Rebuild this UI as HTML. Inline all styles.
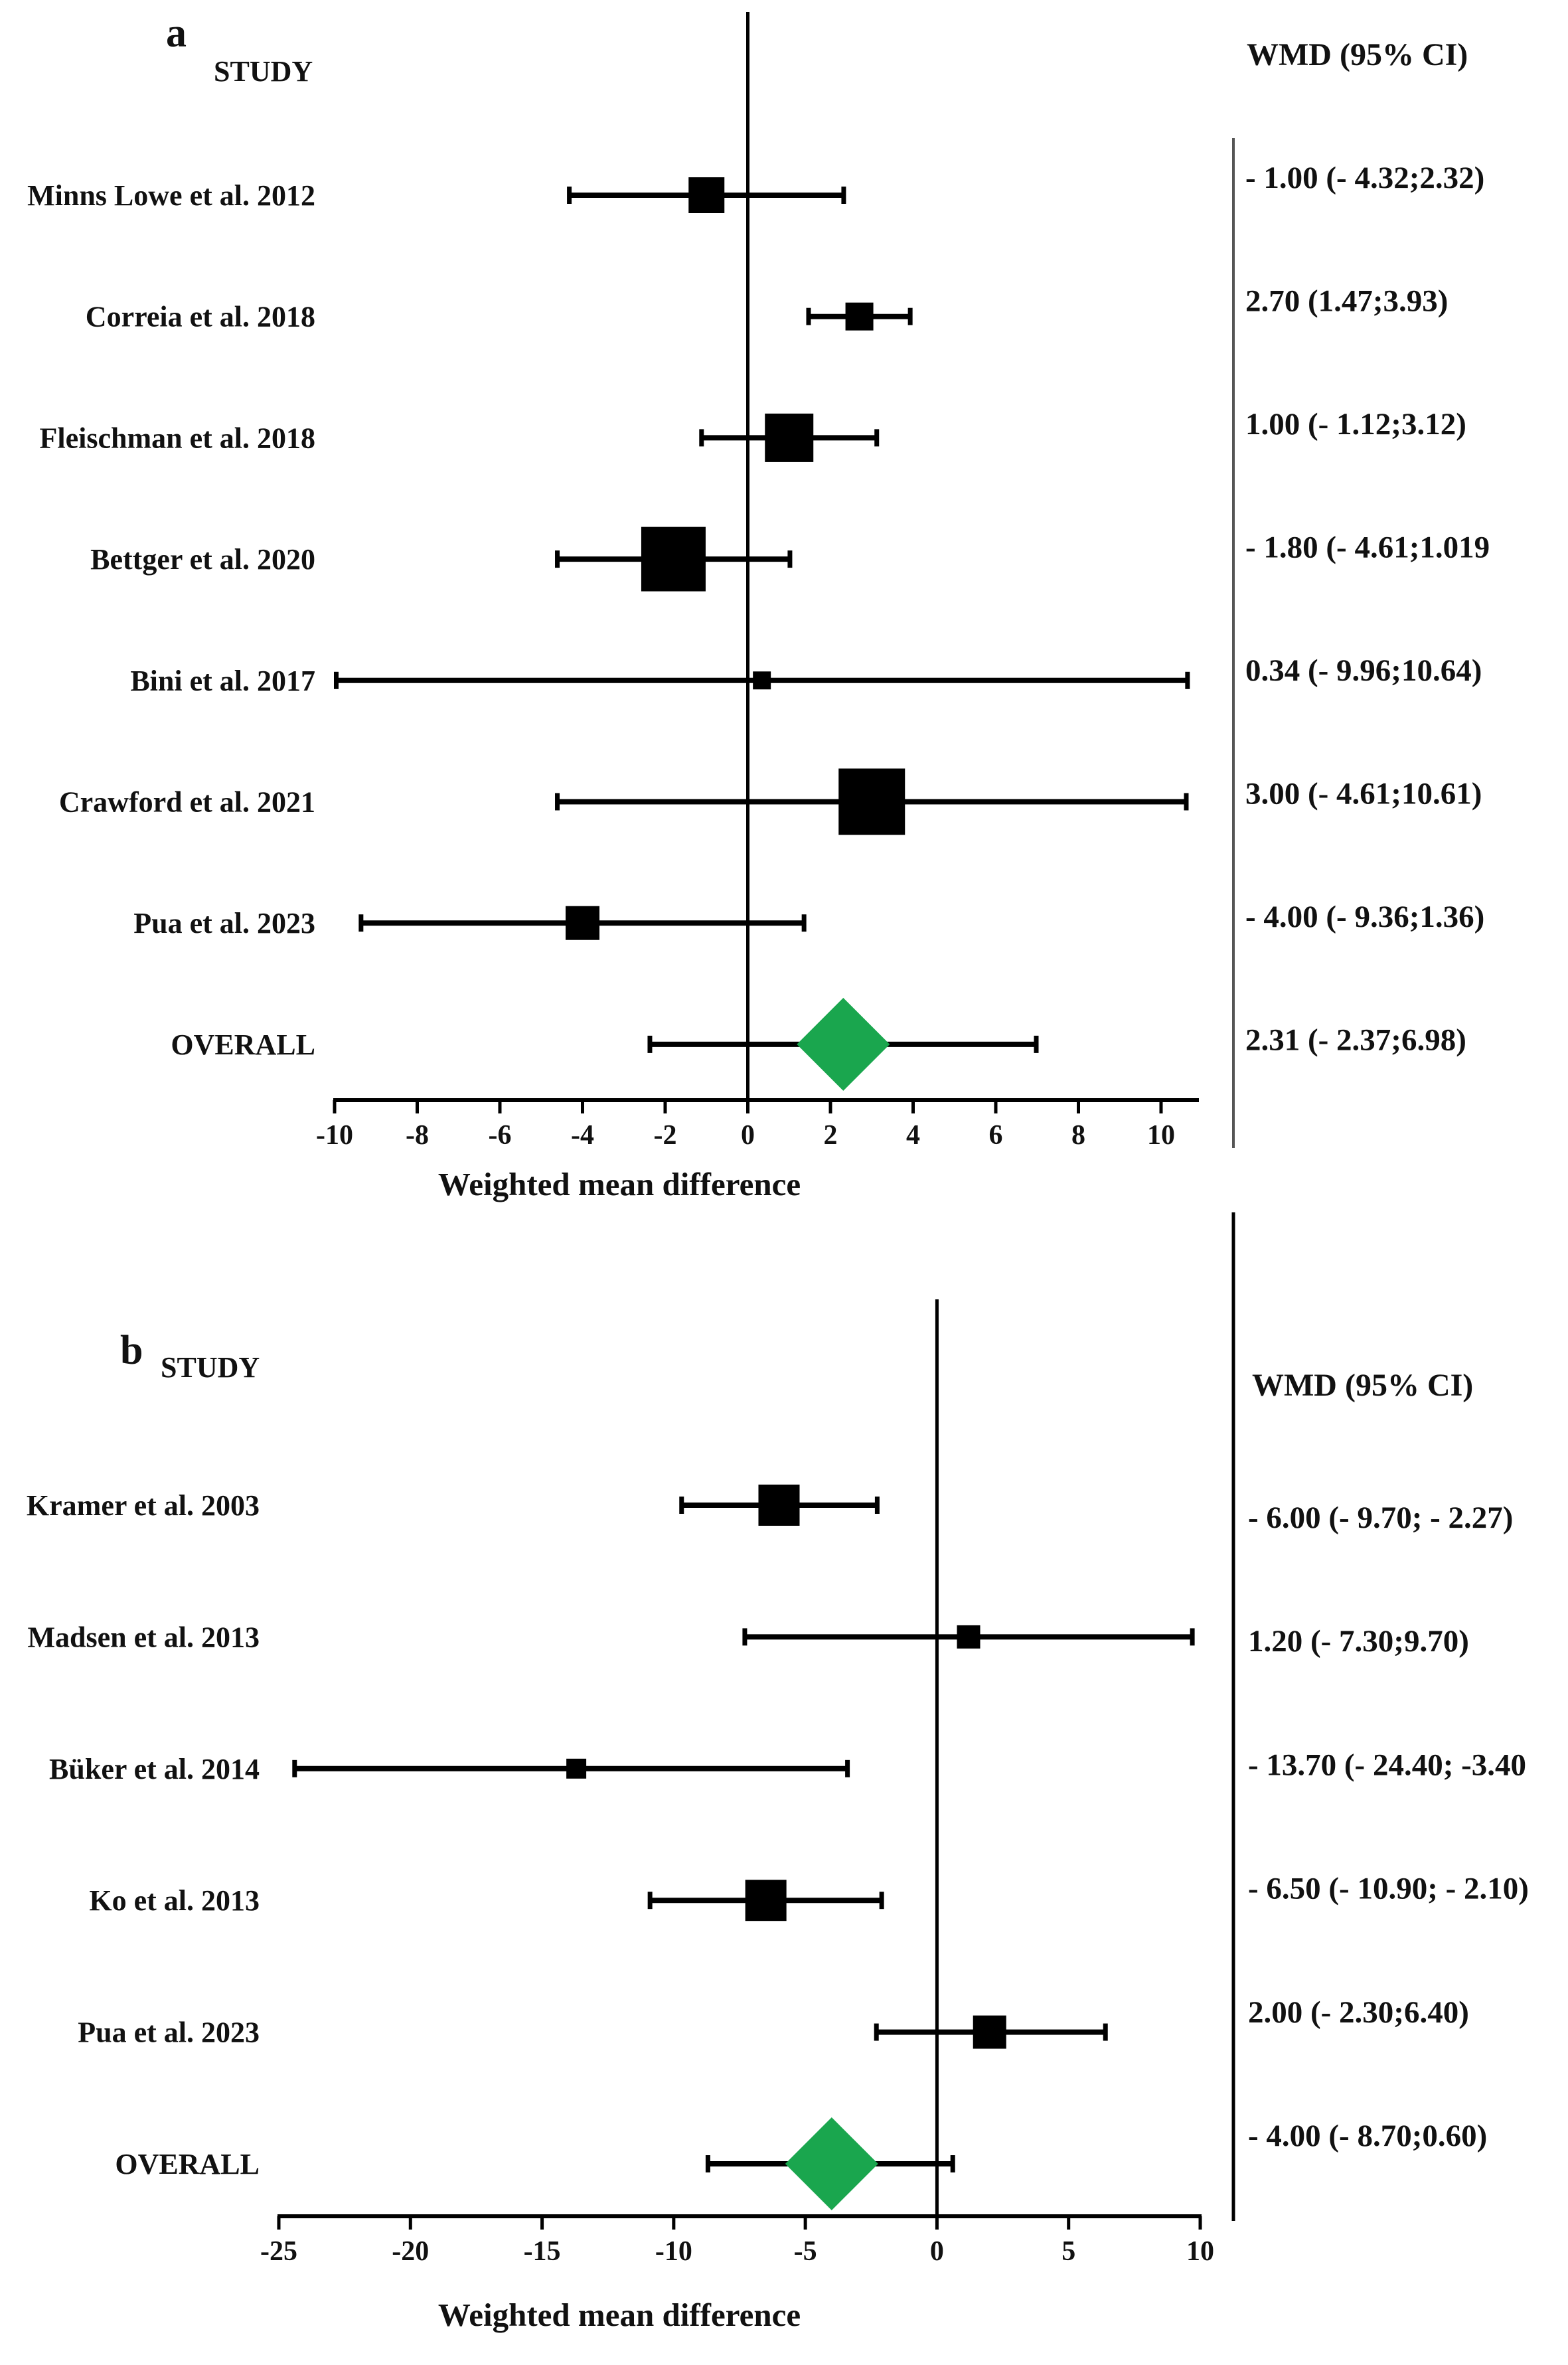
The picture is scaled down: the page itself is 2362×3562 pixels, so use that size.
<!DOCTYPE html>
<html><head><meta charset="utf-8"><style>
html,body{margin:0;padding:0;background:#fff;}
svg{display:block;}
text{font-family:"Liberation Serif",serif;font-weight:bold;fill:#111;}
</style></head><body>
<svg id="fig" width="2362" height="3562" viewBox="0 0 2362 3562">
<text x="250" y="70" font-size="62" font-family="Liberation Sans" font-weight="normal">a</text>
<text x="322" y="122" font-size="44">STUDY</text>
<text x="1878" y="98" font-size="48">WMD (95% CI)</text>
<text x="181" y="2054" font-size="62" font-family="Liberation Sans" font-weight="normal">b</text>
<text x="242" y="2074" font-size="44">STUDY</text>
<text x="1886" y="2102" font-size="48">WMD (95% CI)</text>
<g id="pa"></g>
<g id="pb"></g>
</svg>
<script>
const aStudies=["Minns Lowe et al. 2012","Correia et al. 2018","Fleischman et al. 2018","Bettger et al. 2020","Bini et al. 2017","Crawford et al. 2021","Pua et al. 2023","OVERALL"];
const aMean=[-1.00,2.70,1.00,-1.80,0.34,3.00,-4.00,2.31];
const aLow=[-4.32,1.47,-1.12,-4.61,-9.96,-4.61,-9.36,-2.37];
const aHigh=[2.32,3.93,3.12,1.019,10.64,10.61,1.36,6.98];
const aWeight=[54,42,73,97,27,100,51,0];
const aText=["- 1.00 (- 4.32;2.32)","2.70 (1.47;3.93)","1.00 (- 1.12;3.12)","- 1.80 (- 4.61;1.019","0.34 (- 9.96;10.64)","3.00 (- 4.61;10.61)","- 4.00 (- 9.36;1.36)","2.31 (- 2.37;6.98)"];
const aTicks=[-10,-8,-6,-4,-2,0,2,4,6,8,10];

const bStudies=["Kramer et al. 2003","Madsen et al. 2013","Büker et al. 2014","Ko et al. 2013","Pua et al. 2023","OVERALL"];
const bMean=[-6.00,1.20,-13.70,-6.50,2.00,-4.00];
const bLow=[-9.70,-7.30,-24.40,-10.90,-2.30,-8.70];
const bHigh=[-2.27,9.70,-3.40,-2.10,6.40,0.60];
const bWeight=[62,35,30,62,50,0];
const bText=["- 6.00 (- 9.70; - 2.27)","1.20 (- 7.30;9.70)","- 13.70 (- 24.40; -3.40","- 6.50 (- 10.90; - 2.10)","2.00 (- 2.30;6.40)","- 4.00 (- 8.70;0.60)"];
const bTicks=[-25,-20,-15,-10,-5,0,5,10];

const NS="http://www.w3.org/2000/svg";
function mk(g,tag,attrs){const e=document.createElementNS(NS,tag);for(const k in attrs)e.setAttribute(k,attrs[k]);g.appendChild(e);return e;}

function panel(g,cfg,studies,mean,low,high,wt,txt,ticks){
  const sx=v=>cfg.x0+(v-cfg.d0)/(cfg.d1-cfg.d0)*(cfg.x1-cfg.x0);
  let e=mk(g,'line',{x1:sx(0),x2:sx(0),y1:cfg.zTop,y2:cfg.axY,stroke:'#000','stroke-width':5});
  
  
  e=mk(g,'line',{x1:sx(cfg.d0)-2,x2:cfg.axEnd,y1:cfg.axY,y2:cfg.axY,stroke:'#000','stroke-width':6});
  
  
  ticks.forEach(t=>{
    const x=sx(t);
    const l=mk(g,'line',{x1:x,x2:x,y1:cfg.axY,y2:cfg.axY+20,stroke:'#000','stroke-width':5});
    
    
    const tx=mk(g,'text',{x:x,y:cfg.axY+66,'font-size':42,'text-anchor':'middle'});
    tx.textContent=String(t);
    
    
  });
  e=mk(g,'text',{x:933,y:cfg.xlabY,'font-size':49,'text-anchor':'middle'});
  e.textContent='Weighted mean difference';
  
  
  e=mk(g,'line',{x1:1858,x2:1858,y1:cfg.divTop,y2:cfg.divBot,stroke:cfg.divColor,'stroke-width':cfg.divW});
  
  
  studies.forEach((s,i)=>{
    const y=cfg.row0+i*cfg.rowStep;
    const lab=mk(g,'text',{x:cfg.labX,y:y+15,'font-size':44,'text-anchor':'end'});
    lab.textContent=s;
    
    
    const ci=mk(g,'line',{x1:sx(low[i]),x2:sx(high[i]),y1:y,y2:y,stroke:'#000','stroke-width':8});
    
    
    [low[i],high[i]].forEach(v=>{
      const c=mk(g,'line',{x1:sx(v),x2:sx(v),y1:y-13,y2:y+13,stroke:'#000','stroke-width':7});
      
      
    });
    const cx=sx(mean[i]);
    if(wt[i]>0){
      const r=mk(g,'rect',{x:cx-wt[i]/2,y:y-wt[i]/2,width:wt[i],height:wt[i],fill:'#000'});
      
      
    } else {
      const h=70;
      const d=mk(g,'polygon',{points:`${cx},${y-h} ${cx+h},${y} ${cx},${y+h} ${cx-h},${y}`,fill:'#1aa64e'});
      
      
    }
    const vt=mk(g,'text',{x:cfg.valX,y:cfg.val0+i*cfg.valStep,'font-size':47});
    vt.textContent=txt[i];
    
    
  });
}
panel(document.getElementById('pa'),
 {x0:504,x1:1749,d0:-10,d1:10,zTop:18,axY:1657,axEnd:1806,xlabY:1800,divTop:208,divBot:1729,divColor:'#555',divW:4,
  row0:294,rowStep:182.7,labX:475,valX:1876,val0:283,valStep:185.5},
 aStudies,aMean,aLow,aHigh,aWeight,aText,aTicks);
panel(document.getElementById('pb'),
 {x0:420,x1:1808,d0:-25,d1:10,zTop:1957,axY:3338,axEnd:1810,xlabY:3503,divTop:1826,divBot:3345,divColor:'#000',divW:5,
  row0:2267,rowStep:198.4,labX:391,valX:1880,val0:2301,valStep:186.2},
 bStudies,bMean,bLow,bHigh,bWeight,bText,bTicks);
</script>
</body></html>
